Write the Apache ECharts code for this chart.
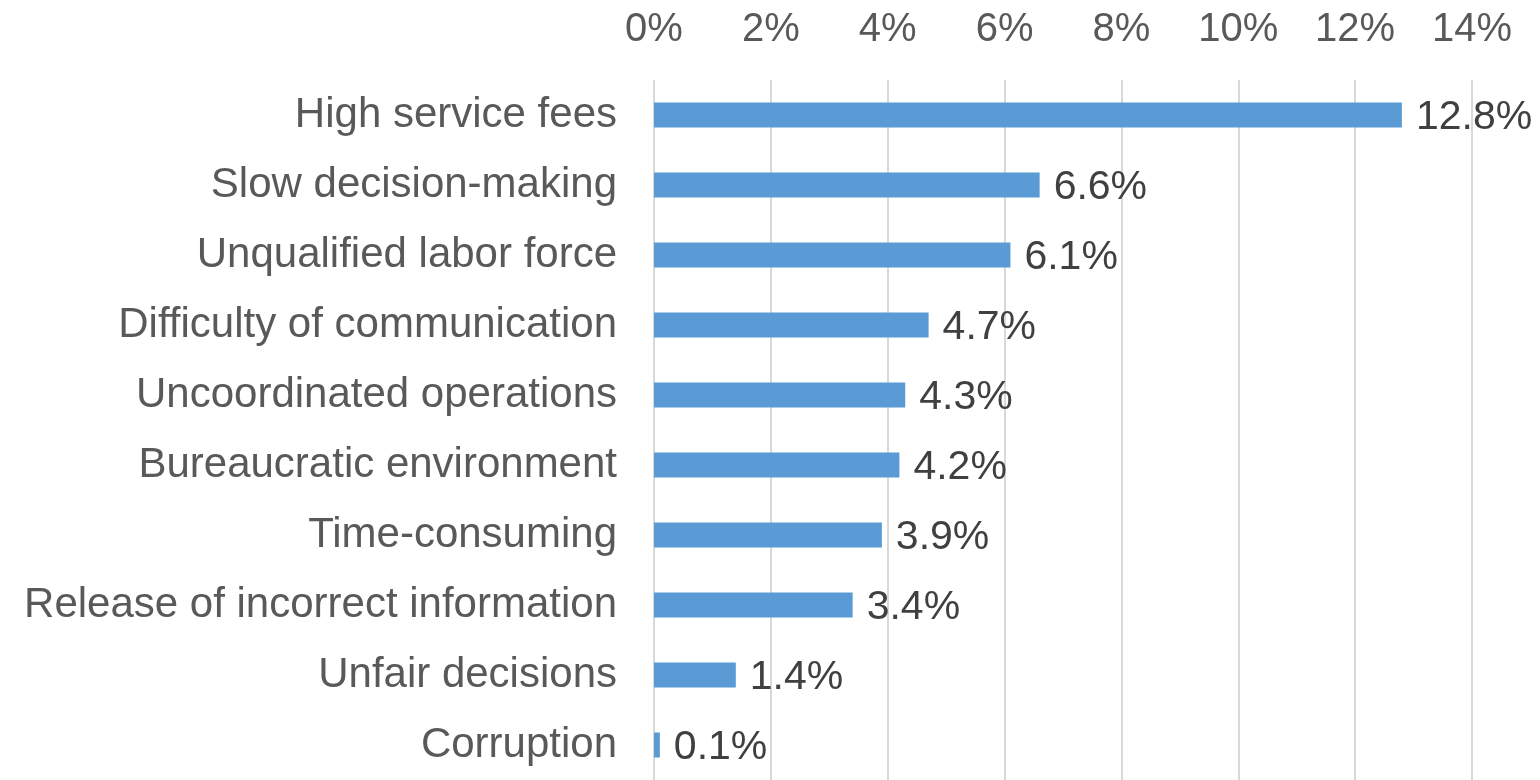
<!DOCTYPE html>
<html>
<head>
<meta charset="utf-8">
<script src="https://cdn.jsdelivr.net/npm/echarts@6/dist/echarts.min.js"></script>
<style>
  html, body { margin: 0; padding: 0; background: #ffffff; }
  #chart { width: 1540px; height: 780px; }
</style>
</head>
<body>
<div id="chart"></div>
<script>
// Problems reported (share of respondents, %)
const categories = [
  'High service fees',
  'Slow decision-making',
  'Unqualified labor force',
  'Difficulty of communication',
  'Uncoordinated operations',
  'Bureaucratic environment',
  'Time-consuming',
  'Release of incorrect information',
  'Unfair decisions',
  'Corruption'
];
const shares = [12.8, 6.6, 6.1, 4.7, 4.3, 4.2, 3.9, 3.4, 1.4, 0.1];

const axisMin = 0;
const axisMax = 14;
const axisStep = 2;

const chart = echarts.init(document.getElementById('chart'), null, { renderer: 'canvas' });

chart.setOption({
  animation: false,
  backgroundColor: '#ffffff',
  textStyle: { fontFamily: '"Liberation Sans", Arial, sans-serif' },
  grid: { left: 654, right: 68, top: 80, height: 706, containLabel: false },
  xAxis: {
    type: 'value',
    position: 'top',
    min: axisMin,
    max: axisMax,
    interval: axisStep,
    axisLine: { show: false },
    axisTick: { show: false },
    axisLabel: {
      formatter: v => v + '%',
      color: '#595959',
      fontSize: 40,
      margin: 30
    },
    splitLine: { show: true, lineStyle: { color: '#d9d9d9', width: 2 } }
  },
  yAxis: {
    type: 'category',
    data: categories,
    inverse: true,
    axisLine: { show: false },
    axisTick: { show: false },
    axisLabel: {
      color: '#595959',
      fontSize: 42,
      margin: 37
    }
  },
  series: [{
    type: 'bar',
    data: shares,
    barWidth: 25,
    itemStyle: { color: '#5b9bd5' },
    label: {
      show: true,
      position: 'right',
      distance: 14,
      offset: [0, 3],
      formatter: p => p.value.toFixed(1) + '%',
      color: '#404040',
      fontSize: 41
    }
  }]
});
</script>
</body>
</html>
